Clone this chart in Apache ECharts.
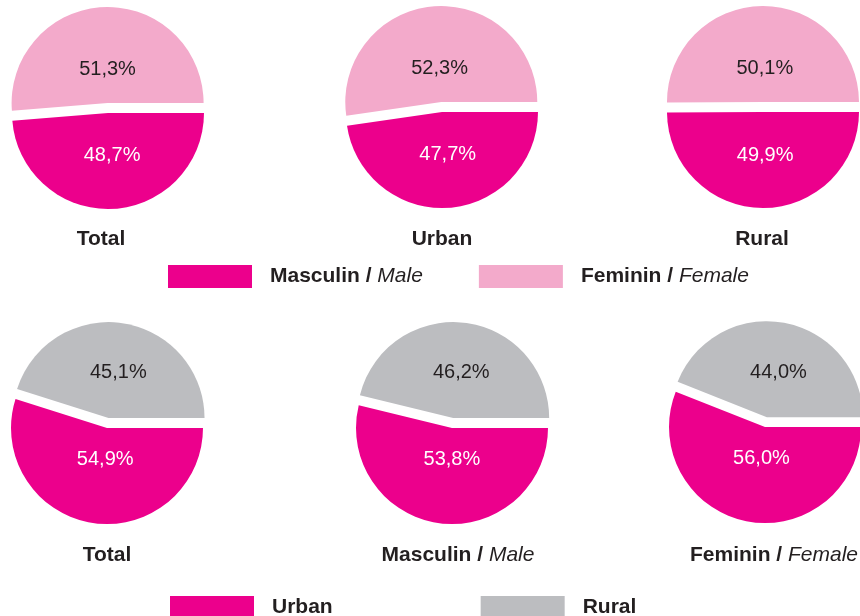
<!DOCTYPE html>
<html>
<head>
<meta charset="utf-8">
<script src="https://cdn.jsdelivr.net/npm/echarts@6/dist/echarts.min.js"></script>
<style>
  html, body { margin: 0; padding: 0; background: #fff; }
  #chart { width: 860px; height: 616px; }
</style>
</head>
<body>
<div id="chart"></div>
<script>
// top row: sex split by area
var sexCats = ['Masculin / Male', 'Feminin / Female'];
var topTitles = ['Total', 'Urban', 'Rural'];
var maleShare = [48.7, 47.7, 49.9];
var femaleShare = [51.3, 52.3, 50.1];

// bottom row: area split by sex
var areaCats = ['Urban', 'Rural'];
var bottomTitles = ['Total', 'Masculin / Male', 'Feminin / Female'];
var urbanShare = [54.9, 53.8, 56.0];
var ruralShare = [45.1, 46.2, 44.0];

var MAGENTA = '#ec008c', PINK = '#f3aacb', GREY = '#bcbdc0', DARK = '#231f20';
var FONT = '"Liberation Sans", Arial, sans-serif';

var topCenters = [[108, 113], [442, 112], [763, 112]];
var bottomCenters = [[107, 428], [452, 428], [765, 427]];

function fmt(v) {
    return v.toFixed(1).replace('.', ',') + '%';
}

// "Masculin / Male" -> bold part + italic part
function richName(name, style) {
    var p = name.split(' / ');
    if (p.length < 2) return '{' + style + '|' + name + '}';
    return '{' + style + '|' + p[0] + ' /}{s| }{i|' + p[1] + '}';
}

function makePie(center, names, values, colors, dyFirst, dySecond, dxFirst) {
    return {
        type: 'pie',
        center: center,
        radius: 96,
        startAngle: 0,
        clockwise: true,
        selectedMode: 'single',
        selectedOffset: 10,
        animation: false,
        emphasis: { scale: false },
        label: {
            show: true,
            position: 'inner',
            fontFamily: FONT,
            fontSize: 20,
            formatter: function (p) { return fmt(p.value); }
        },
        labelLine: { show: false },
        labelLayout: function (p) {
            return p.dataIndex === 0 ? { dx: dxFirst, dy: dyFirst } : { dx: 2, dy: dySecond };
        },
        data: [
            { name: names[0], value: values[0], itemStyle: { color: colors[0] }, label: { color: '#ffffff' } },
            { name: names[1], value: values[1], itemStyle: { color: colors[1] }, label: { color: DARK }, selected: true }
        ]
    };
}

var series = [];
for (var i = 0; i < 3; i++) {
    series.push(makePie(topCenters[i], sexCats, [maleShare[i], femaleShare[i]], [MAGENTA, PINK], -8, 17, 2));
}
for (var j = 0; j < 3; j++) {
    series.push(makePie(bottomCenters[j], areaCats, [urbanShare[j], ruralShare[j]], [MAGENTA, GREY], -19, 5, 6));
}

var titleRich = {
    b: { font: 'bold 21px ' + FONT, fill: DARK },
    s: { font: '21px ' + FONT, fill: DARK },
    i: { font: 'italic 21px ' + FONT, fill: DARK }
};
var titleX = { top: [101, 442, 762], bottom: [107, 458, 774] };
var graphics = [];
topTitles.forEach(function (t, k) {
    graphics.push({
        type: 'text', x: titleX.top[k], y: 239,
        style: { text: richName(t, 'b'), align: 'center', verticalAlign: 'middle', rich: titleRich }
    });
});
bottomTitles.forEach(function (t, k) {
    graphics.push({
        type: 'text', x: titleX.bottom[k], y: 555,
        style: { text: richName(t, 'b'), align: 'center', verticalAlign: 'middle', rich: titleRich }
    });
});

var legendText = {
    color: DARK,
    fontFamily: FONT,
    fontSize: 21,
    rich: {
        b: { fontWeight: 'bold', fontSize: 21, fontFamily: FONT, color: DARK, padding: [0, 0, 0, 13] },
        s: { fontSize: 21, fontFamily: FONT, color: DARK },
        i: { fontStyle: 'italic', fontSize: 21, fontFamily: FONT, color: DARK }
    }
};

var option = {
    backgroundColor: '#ffffff',
    legend: [
        {
            data: sexCats,
            left: 168, top: 265, padding: 0,
            icon: 'rect', itemWidth: 84, itemHeight: 23, itemGap: 56,
            selectedMode: false,
            formatter: function (n) { return richName(n, 'b'); },
            textStyle: legendText
        },
        {
            data: areaCats,
            left: 170, top: 596, padding: 0,
            icon: 'rect', itemWidth: 84, itemHeight: 23, itemGap: 148,
            selectedMode: false,
            formatter: function (n) { return richName(n, 'b'); },
            textStyle: legendText
        }
    ],
    graphic: graphics,
    series: series
};

var myChart = echarts.init(document.getElementById('chart'));
myChart.setOption(option);
</script>
</body>
</html>
